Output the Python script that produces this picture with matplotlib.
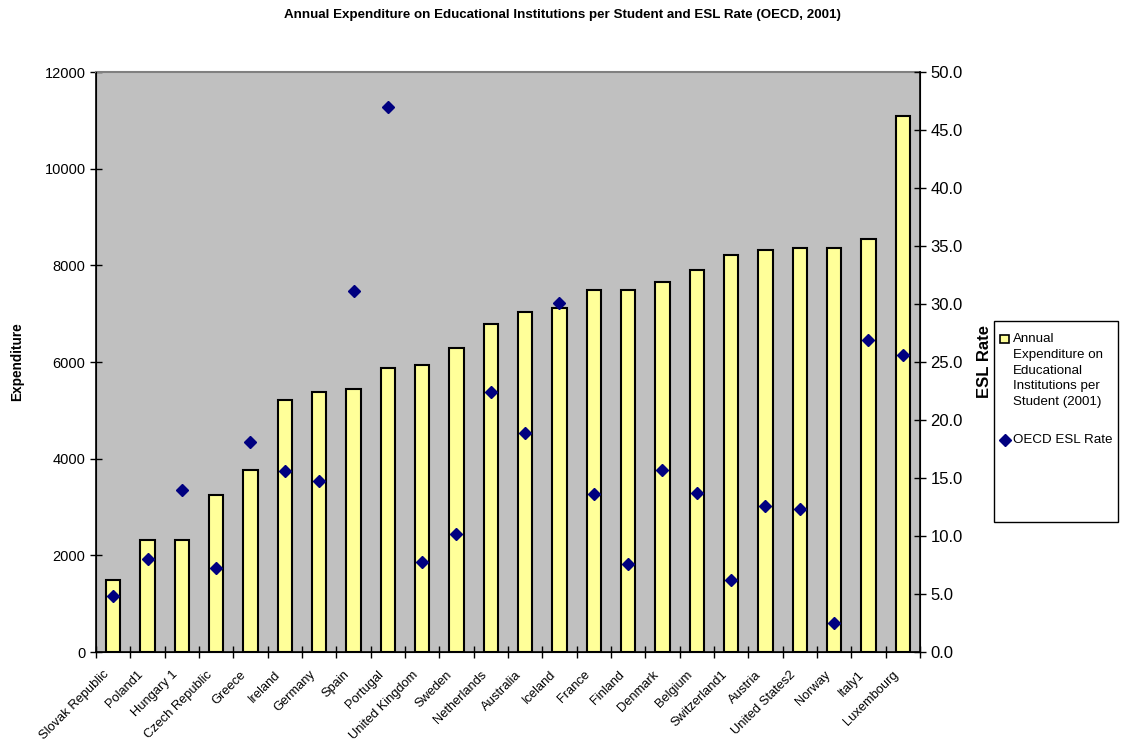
import numpy as np
import matplotlib
matplotlib.use('Agg')
import matplotlib.pyplot as plt
import matplotlib.transforms as mtransforms
from matplotlib.patches import Rectangle
from matplotlib.lines import Line2D
from matplotlib.ticker import FixedLocator, FormatStrFormatter

plt.rcParams['font.family'] = ['Liberation Sans', 'DejaVu Sans']

countries = ['Slovak Republic', 'Poland1', 'Hungary 1', 'Czech Republic', 'Greece',
             'Ireland', 'Germany', 'Spain', 'Portugal', 'United Kingdom', 'Sweden',
             'Netherlands', 'Australia', 'Iceland', 'France', 'Finland', 'Denmark',
             'Belgium', 'Switzerland1', 'Austria', 'United States2', 'Norway',
             'Italy1', 'Luxembourg']
expenditure = [1480, 2320, 2320, 3240, 3770, 5210, 5370, 5440, 5880, 5940, 6290,
               6780, 7040, 7120, 7500, 7500, 7660, 7910, 8220, 8310, 8360, 8360,
               8550, 11090]
esl_rate = [4.8, 8.0, 14.0, 7.2, 18.1, 15.6, 14.7, 31.1, 47.0, 7.8, 10.2, 22.4,
            18.9, 30.1, 13.6, 7.6, 15.7, 13.7, 6.2, 12.6, 12.3, 2.5, 26.9, 25.6]

bar_label = 'Annual\nExpenditure on\nEducational\nInstitutions per\nStudent (2001)'
dot_label = 'OECD ESL Rate'

W, H = 1124, 742
fig = plt.figure(figsize=(W / 100, H / 100), dpi=100)
ax = fig.add_axes([96 / W, 1 - 652 / H, 824 / W, 580 / H])
ax.set_facecolor('#C0C0C0')

x = np.arange(len(countries))
ax.bar(x, expenditure, width=0.41, color='#FFFF99', edgecolor='black',
       linewidth=1.5, zorder=2)
ax.set_xlim(-0.5, len(countries) - 0.5)
ax.set_ylim(0, 12000)
ax.set_yticks(np.arange(0, 12001, 2000))
ax.tick_params(axis='y', direction='inout', length=8, width=1, labelsize=10.5)
ax.set_xticks(x)
ax.set_xticklabels(countries, rotation=45, ha='right', va='center',
                   rotation_mode='anchor', fontsize=9.3)
ax.tick_params(axis='x', length=0, pad=15)
shift = mtransforms.ScaledTranslation(-6 / 100, 0, fig.dpi_scale_trans)
for lab in ax.get_xticklabels():
    lab.set_transform(lab.get_transform() + shift)
ax.xaxis.set_minor_locator(FixedLocator(np.arange(-0.5, len(countries), 1)))
ax.tick_params(axis='x', which='minor', direction='inout', length=8, width=1)
ax.set_ylabel('Expenditure', fontsize=9.8, fontweight='bold')
ax.yaxis.set_label_coords((24 - 96) / 824, 0.5)
ax.spines['top'].set_color('#808080')
ax.spines['top'].set_linewidth(1.5)
ax.spines['left'].set_linewidth(1.2)
ax.spines['bottom'].set_linewidth(1.2)

ax2 = ax.twinx()
ax2.plot(x, esl_rate, linestyle='none', marker='D', color='#000080',
         markersize=6, zorder=3)
ax2.set_ylim(0, 50)
ax2.set_yticks(np.arange(0, 50.1, 5))
ax2.yaxis.set_major_formatter(FormatStrFormatter('%.1f'))
ax2.tick_params(axis='y', direction='inout', length=8, width=1, labelsize=12)
ax2.set_ylabel('ESL Rate', fontsize=12, fontweight='bold', labelpad=10)
ax2.spines['right'].set_linewidth(1.2)
ax2.spines['top'].set_visible(False)

fig.text(0.5, 1 - 15 / H,
         'Annual Expenditure on Educational Institutions per Student and ESL Rate (OECD, 2001)',
         fontsize=9.6, fontweight='bold', ha='center', va='center')

# legend drawn by hand so the swatch sits beside the first line
def fx(px):
    return px / W

def fy(py):
    return 1 - py / H

fig.patches.append(Rectangle((fx(994), fy(522)), fx(124), 201 / H, transform=fig.transFigure,
                             facecolor='white', edgecolor='black', linewidth=1))
fig.patches.append(Rectangle((fx(1000), fy(343)), fx(9), 8 / H, transform=fig.transFigure,
                             facecolor='#FFFF99', edgecolor='black', linewidth=1.2))
fig.text(fx(1013), fy(333), bar_label, fontsize=9.6, ha='left', va='top',
         linespacing=1.42)
fig.lines.append(Line2D([fx(1005)], [fy(440)], transform=fig.transFigure,
                        marker='D', color='#000080', markersize=6, linestyle='none'))
fig.text(fx(1013), fy(440), dot_label, fontsize=9.6, ha='left', va='center')

fig.savefig('out.png', dpi=100)
